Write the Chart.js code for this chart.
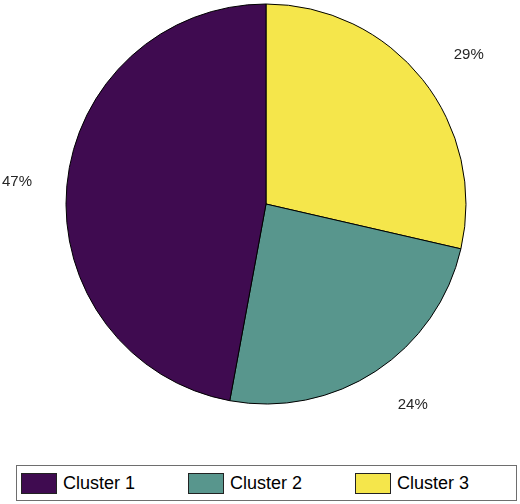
<!DOCTYPE html>
<html>
<head>
<meta charset="utf-8">
<script src="https://cdn.jsdelivr.net/npm/chart.js@4"></script>
<style>
  body { margin: 0; background: #fff; }
  #wrap { position: relative; width: 520px; height: 504px; }
  #legend {
    position: absolute; left: 16px; top: 465px; width: 499px; height: 34px;
    border: 1px solid #6e6e6e; background: #fff;
    font-family: "Liberation Sans", Arial, sans-serif; font-size: 18px; color: #000;
  }
  .item { position: absolute; top: 7px; height: 21px; line-height: 21px; white-space: nowrap; }
  .swatch { position: absolute; left: 0; top: 0; width: 34px; height: 19px; border: 1px solid #222; }
  .txt { position: absolute; left: 42px; top: 0; }
</style>
</head>
<body>
<div id="wrap">
  <canvas id="pie" width="520" height="504"></canvas>
  <div id="legend"></div>
</div>
<script>
// values in percent
const clusters = ['Cluster 1', 'Cluster 2', 'Cluster 3'];
const shares = [47.1, 24.3, 28.6];
const colours = ['#3f0b50', '#58968d', '#f5e64b'];

// the pie runs counter-clockwise from the top, so feed it reversed
const drawOrder = [2, 1, 0];

const outsideLabels = {
    id: 'outsideLabels',
    afterDatasetsDraw(chart) {
        const ctx = chart.ctx;
        const arcs = chart.getDatasetMeta(0).data;
        const data = chart.data.datasets[0].data;
        ctx.save();
        ctx.font = '15px "Liberation Sans", Arial, sans-serif';
        ctx.fillStyle = '#262626';
        ctx.textBaseline = 'middle';
        arcs.forEach((arc, i) => {
            const mid = (arc.startAngle + arc.endAngle) / 2;
            const r = arc.outerRadius * 1.2;
            let x = arc.x + Math.cos(mid) * r;
            const y = arc.y + Math.sin(mid) * r;
            const right = x >= arc.x;
            if (!right) x += 5; // left-side labels sit a bit closer in
            ctx.textAlign = right ? 'left' : 'right';
            ctx.fillText(Math.round(data[i]) + '%', x, y);
        });
        ctx.restore();
    }
};

new Chart(document.getElementById('pie'), {
    type: 'pie',
    data: {
        labels: drawOrder.map(i => clusters[i]),
        datasets: [{
            data: drawOrder.map(i => shares[i]),
            backgroundColor: drawOrder.map(i => colours[i]),
            borderColor: '#000',
            borderWidth: 1
        }]
    },
    options: {
        responsive: false,
        animation: false,
        radius: 200,
        layout: { padding: { left: 12, right: 0, top: 0, bottom: 96 } },
        plugins: {
            legend: { display: false },
            tooltip: { enabled: false }
        }
    },
    plugins: [outsideLabels]
});

const legend = document.getElementById('legend');
clusters.forEach((name, i) => {
    const item = document.createElement('div');
    item.className = 'item';
    item.style.left = (4 + i * 167) + 'px';
    item.innerHTML = '<div class="swatch" style="background:' + colours[i] + '"></div><span class="txt">' + name + '</span>';
    legend.appendChild(item);
});
</script>
</body>
</html>
